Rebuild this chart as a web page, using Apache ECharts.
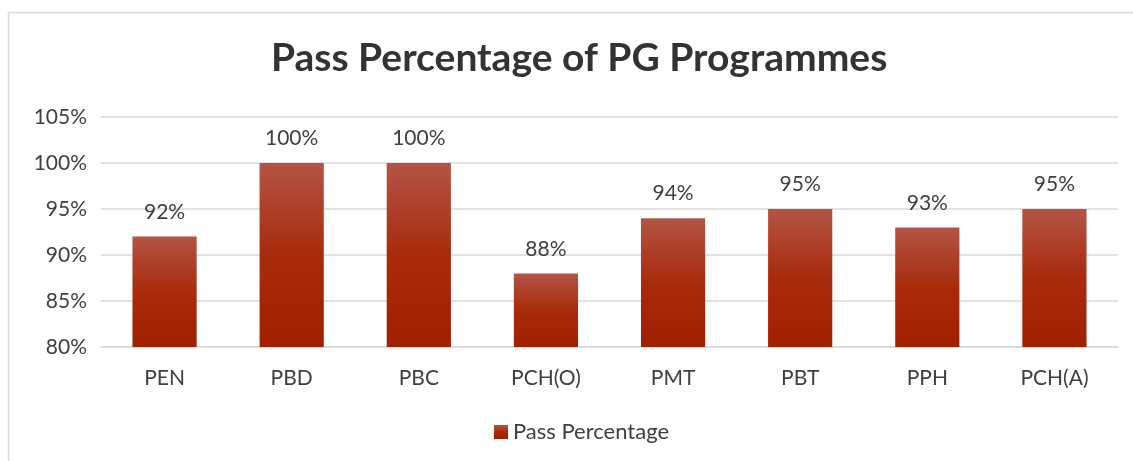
<!DOCTYPE html>
<html><head><meta charset="utf-8">
<script src="https://cdn.jsdelivr.net/npm/echarts@6/dist/echarts.min.js"></script>
<style>html,body{margin:0;padding:0;background:#fff}#c{width:1133px;height:461px}</style>
</head><body><div id="c"></div>
<script>
const categories = ['PEN','PBD','PBC','PCH(O)','PMT','PBT','PPH','PCH(A)'];
const passPercentage = [92,100,100,88,94,95,93,95];
const yTicks = [80,85,90,95,100,105];
const chart = echarts.init(document.getElementById('c'));
const font = 'Lato, "Open Sans", sans-serif';
const grad = new echarts.graphic.LinearGradient(0,0,0,1,[
  {offset:0,color:'#B35445'},{offset:0.5,color:'#A82B0C'},{offset:1,color:'#A02000'}]);
chart.setOption({
  animation:false,
  graphic:[{type:'rect',shape:{x:8.5,y:12.5,width:1140,height:460},style:{fill:null,stroke:'#d9d9d9',lineWidth:1.5},silent:true}],
  title:{text:'Pass Percentage of PG Programmes',left:266,top:34,
    textStyle:{fontFamily:font,fontSize:39,fontWeight:'bold',color:'#333333'}},
  legend:{bottom:13,left:489,itemWidth:14,itemHeight:14,itemGap:6,
    textStyle:{fontFamily:font,fontSize:22,color:'#404040'},
    data:[{name:'Pass Percentage',icon:'rect'}]},
  grid:{left:101,right:15,top:117,bottom:114},
  xAxis:{type:'category',data:categories,
    axisLine:{lineStyle:{color:'#d9d9d9',width:1.5}},axisTick:{show:false},
    axisLabel:{fontFamily:font,fontSize:21,color:'#404040',margin:21}},
  yAxis:{type:'value',min:yTicks[0],max:yTicks[yTicks.length-1],interval:5,
    axisLine:{show:false},axisTick:{show:false},
    splitLine:{lineStyle:{color:'#d9d9d9',width:1.5}},
    axisLabel:{fontFamily:font,fontSize:21,color:'#404040',margin:14,formatter:v=>v+'%'}},
  series:[{name:'Pass Percentage',type:'bar',data:passPercentage,barWidth:'50.5%',
    itemStyle:{color:grad},
    label:{show:true,position:'top',distance:14,fontFamily:font,fontSize:21,color:'#404040',formatter:p=>p.value+'%'}}]
});
</script></body></html>
